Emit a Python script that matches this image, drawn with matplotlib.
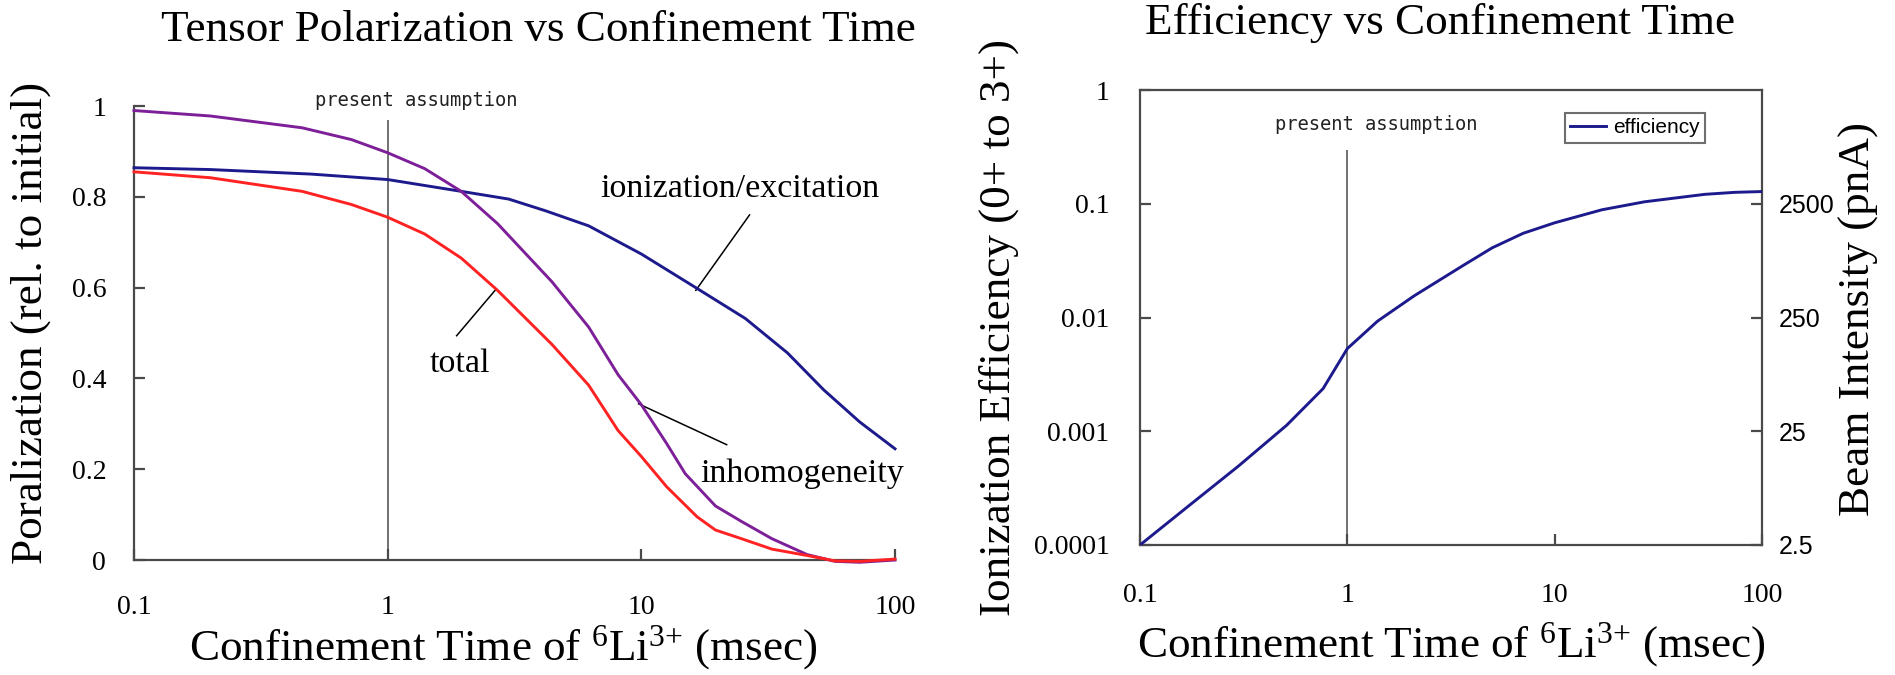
import numpy as np
import matplotlib
matplotlib.use("Agg")
import matplotlib.pyplot as plt
from matplotlib import font_manager
from matplotlib.ticker import FixedLocator, FixedFormatter, NullLocator

# ---------------- data ----------------
# Tensor polarization vs confinement time (msec)
t_ion = [0.1, 0.2, 0.5, 1.0, 1.95, 3.0, 4.2, 6.2, 10.0, 16.6, 25.7, 37.7, 52.3, 72.6, 100.0]
p_ion = [0.864, 0.860, 0.850, 0.838, 0.812, 0.795, 0.769, 0.736, 0.674, 0.598, 0.532, 0.456, 0.375, 0.304, 0.245]

t_inh = [0.1, 0.2, 0.46, 0.72, 1.0, 1.4, 1.95, 2.71, 4.44, 6.2, 8.1, 10.0, 12.6, 14.9, 19.6, 24.8, 32.7, 45.0, 58.0, 72.6, 100.0]
p_inh = [0.990, 0.978, 0.952, 0.926, 0.897, 0.862, 0.812, 0.741, 0.613, 0.513, 0.408, 0.342, 0.256, 0.190, 0.119, 0.085, 0.047, 0.012, -0.003, -0.005, 0.0]

t_tot = [0.1, 0.2, 0.46, 0.72, 1.0, 1.4, 1.95, 2.71, 4.44, 6.2, 8.1, 10.0, 12.6, 16.6, 19.6, 24.8, 32.7, 45.0, 58.0, 72.6, 100.0]
p_tot = [0.855, 0.842, 0.812, 0.783, 0.755, 0.718, 0.665, 0.594, 0.475, 0.385, 0.285, 0.228, 0.161, 0.095, 0.066, 0.047, 0.024, 0.010, -0.002, -0.003, 0.002]

# Ionization efficiency (0+ to 3+) vs confinement time (msec)
t_eff = [0.1, 0.174, 0.298, 0.51, 0.764, 1.0, 1.4, 2.1, 3.6, 5.0, 7.05, 10.0, 16.9, 27.1, 53.0, 74.0, 100.0]
eff = [1.0e-4, 2.25e-4, 4.93e-4, 1.13e-3, 2.37e-3, 5.33e-3, 9.3e-3, 0.0155, 0.0285, 0.041, 0.055, 0.068, 0.0885, 0.104, 0.121, 0.126, 0.128]

x_ticks = [0.1, 1, 10, 100]
x_ticklabels = ["0.1", "1", "10", "100"]
pol_ticks = [0, 0.2, 0.4, 0.6, 0.8, 1.0]
pol_ticklabels = ["0", "0.2", "0.4", "0.6", "0.8", "1"]
eff_ticks = [1e-4, 1e-3, 1e-2, 1e-1, 1]
eff_ticklabels = ["0.0001", "0.001", "0.01", "0.1", "1"]
beam_ticks = [2.5, 25, 250, 2500]
beam_ticklabels = ["2.5", "25", "250", "2500"]
beam_per_eff = 25000.0   # pnA of 3+ beam for unit efficiency
assumed_time = 1.0

# ---------------- styles ----------------
SERIF = "Liberation Serif"
MONO = "DejaVu Sans Mono"
available = {f.name for f in font_manager.fontManager.ttflist}
NARROW = "Liberation Sans Narrow" if "Liberation Sans Narrow" in available else "Liberation Sans"

plt.rcParams["font.family"] = SERIF
plt.rcParams["mathtext.fontset"] = "custom"
plt.rcParams["mathtext.rm"] = SERIF
plt.rcParams["mathtext.it"] = SERIF + ":italic"
plt.rcParams["mathtext.bf"] = SERIF + ":bold"

C_ION = "#1c1a8c"
C_INH = "#7d1f98"
C_TOT = "#ff2222"
C_AX = "#4a4a4a"
LW = 2.1
BIG = 32.5
TICK = 20
XLABEL = r"Confinement Time of $^{6}$Li$^{3{+}}$ (msec)"

W, H = 1895, 675
fig = plt.figure(figsize=(W / 100, H / 100), dpi=100)


def fx(px):
    return px / W


def fy(py):
    return 1 - py / H


# ================= left panel =================
ax1 = fig.add_axes([fx(134), fy(560), fx(895 - 134), (560 - 106) / H])
ax1.set_xscale("log")
ax1.set_xlim(0.1, 100)
ax1.set_ylim(0, 1)
for s in ("top", "right"):
    ax1.spines[s].set_visible(False)
for s in ("left", "bottom"):
    ax1.spines[s].set_color(C_AX)
    ax1.spines[s].set_linewidth(1.6)

ax1.plot(t_ion, p_ion, color=C_ION, lw=LW, clip_on=False, zorder=3)
ax1.plot(t_inh, p_inh, color=C_INH, lw=LW, clip_on=False, zorder=3)
ax1.plot(t_tot, p_tot, color=C_TOT, lw=LW, clip_on=False, zorder=4)
ax1.vlines(assumed_time, 0, 0.969, color=C_AX, lw=1.1, zorder=2)
ax1.text(1.30, 1.013, "present assumption", family=MONO, fontsize=13.5,
         ha="center", va="center", color="#222222")

ax1.xaxis.set_major_locator(FixedLocator(x_ticks))
ax1.xaxis.set_major_formatter(FixedFormatter(x_ticklabels))
ax1.xaxis.set_minor_locator(NullLocator())
ax1.yaxis.set_major_locator(FixedLocator(pol_ticks))
ax1.yaxis.set_major_formatter(FixedFormatter(pol_ticklabels))
ax1.tick_params(axis="x", direction="in", length=8, width=1.6, color=C_AX,
                labelsize=TICK, pad=25)
ax1.tick_params(axis="y", direction="in", length=8, width=1.6, color=C_AX,
                labelsize=TICK, pad=20)

# curve annotations with leader lines
ax1.text(24.4, 0.817, "ionization/excitation", fontsize=24.5, ha="center", va="center")
ax1.plot([26.7, 16.4], [0.760, 0.594], color="black", lw=1.1)
ax1.text(1.93, 0.432, "total", fontsize=24.5, ha="center", va="center")
ax1.plot([1.87, 2.68], [0.494, 0.597], color="black", lw=1.1)
ax1.text(43.0, 0.19, "inhomogeneity", fontsize=24.5, ha="center", va="center")
ax1.plot([21.7, 9.75], [0.254, 0.344], color="black", lw=1.1)

fig.text(fx(538), fy(41), "Tensor Polarization vs Confinement Time",
         fontsize=BIG, ha="center", va="baseline")
fig.text(fx(31), fy(323), "Poralization (rel. to initial)", fontsize=BIG,
         rotation=90, ha="center", va="center")
fig.text(fx(503), fy(648), XLABEL, fontsize=BIG, ha="center", va="center")

# ================= right panel =================
ax2 = fig.add_axes([fx(1140), fy(545), fx(1762 - 1140), (545 - 90) / H])
ax2.set_xscale("log")
ax2.set_yscale("log")
ax2.set_xlim(0.1, 100)
ax2.set_ylim(1e-4, 1)
for s in ax2.spines.values():
    s.set_color(C_AX)
    s.set_linewidth(1.6)

ax2.plot(t_eff, eff, color=C_ION, lw=LW, label="efficiency", zorder=3)
ax2.vlines(assumed_time, 1e-4, 0.296, color=C_AX, lw=1.1, zorder=2)
ax2.text(1.38, 0.50, "present assumption", family=MONO, fontsize=13.5,
         ha="center", va="center", color="#222222")

ax2.xaxis.set_major_locator(FixedLocator(x_ticks))
ax2.xaxis.set_major_formatter(FixedFormatter(x_ticklabels))
ax2.xaxis.set_minor_locator(NullLocator())
ax2.yaxis.set_major_locator(FixedLocator(eff_ticks))
ax2.yaxis.set_major_formatter(FixedFormatter(eff_ticklabels))
ax2.yaxis.set_minor_locator(NullLocator())
ax2.tick_params(axis="x", direction="in", length=8, width=1.6, color=C_AX,
                labelsize=TICK, pad=27)
ax2.tick_params(axis="y", direction="in", length=8, width=1.6, color=C_AX,
                labelsize=TICK, pad=22)

leg = ax2.legend(loc="upper left", bbox_to_anchor=(0.683, 0.949),
                 prop={"family": "Liberation Sans", "size": 15},
                 frameon=True, fancybox=False, borderpad=0.25,
                 handlelength=1.75, handletextpad=0.3, borderaxespad=0)
leg.get_frame().set_edgecolor(C_AX)
leg.get_frame().set_linewidth(1.5)

# beam intensity scale on the right
ax3 = ax2.twinx()
ax3.set_yscale("log")
ax3.set_ylim(1e-4 * beam_per_eff, 1 * beam_per_eff)
ax3.yaxis.set_major_locator(FixedLocator(beam_ticks))
ax3.yaxis.set_major_formatter(FixedFormatter(beam_ticklabels))
ax3.yaxis.set_minor_locator(NullLocator())
ax3.tick_params(axis="y", direction="in", length=8, width=1.6, color=C_AX,
                labelsize=18, pad=12)
for lab in ax3.get_yticklabels():
    lab.set_family(NARROW)
for s in ax3.spines.values():
    s.set_visible(False)

fig.text(fx(1440), fy(34), "Efficiency vs Confinement Time",
         fontsize=BIG, ha="center", va="baseline")
fig.text(fx(999), fy(328), "Ionization Efficiency (0+ to 3+)", fontsize=BIG,
         rotation=90, ha="center", va="center")
fig.text(fx(1859), fy(319), "Beam Intensity (pnA)", fontsize=BIG,
         rotation=90, ha="center", va="center")
fig.text(fx(1451), fy(645), XLABEL, fontsize=BIG, ha="center", va="center")

fig.savefig("out.png", dpi=100, facecolor="white")
